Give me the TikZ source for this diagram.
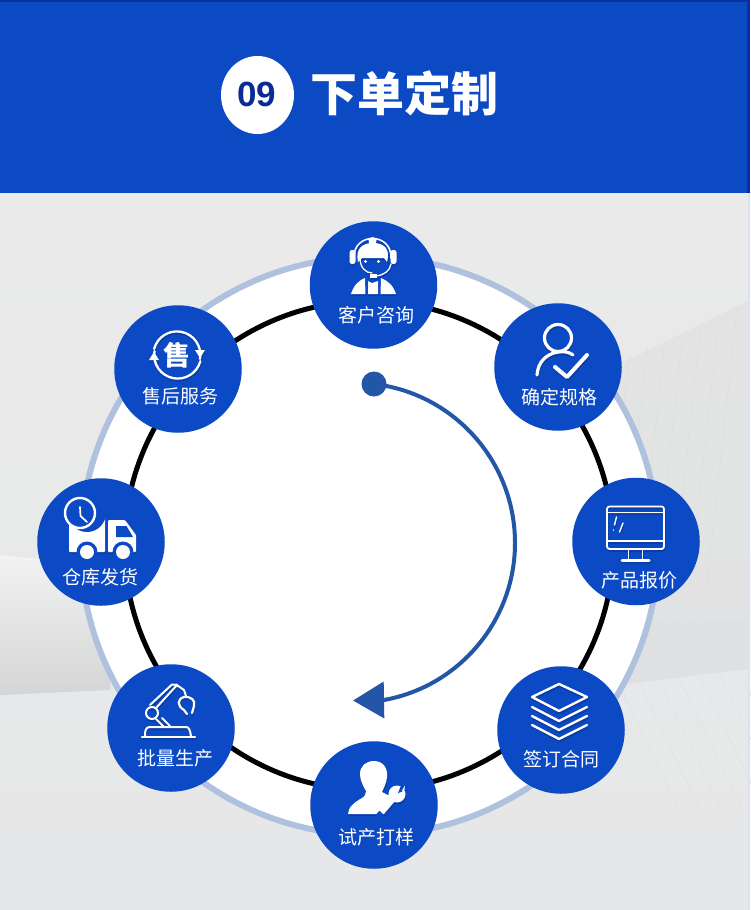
\documentclass[tikz,border=0pt]{standalone}
\usepackage{fontspec}
\setmainfont{Liberation Sans}
\newfontfamily\cjk{Noto Sans CJK SC}
\usetikzlibrary{shapes.geometric,arrows.meta}
\definecolor{bannerblue}{HTML}{0C4AC3}
\definecolor{bannerdark}{HTML}{0A2F9E}
\definecolor{stepblue}{HTML}{0B4AC4}
\definecolor{ringblue}{HTML}{B0C1DF}
\definecolor{arcblue}{HTML}{2356A6}
\definecolor{numblue}{HTML}{0A2B95}
\definecolor{shadowblue}{HTML}{0A3DA6}
\definecolor{bgtop}{HTML}{EAEAEA}
\definecolor{bgbot}{HTML}{E6E7E8}
\definecolor{stripe}{HTML}{DEDFDF}
\definecolor{stripelow}{HTML}{E1E2E2}
\definecolor{edgeblue}{HTML}{DDE1F0}
\def\icol{white}
\tikzset{
  x=1pt,y=-1pt,
  stepnode/.style={circle,fill=stepblue,minimum size=127.5pt,inner sep=0pt,outer sep=0pt},
  steplabel/.style={text=white,font=\cjk\fontsize{19}{19}\selectfont,inner sep=0pt},
  icf/.style={fill=\icol,draw=none},
  ics/.style={draw=\icol,line width=#1,fill=none,line cap=round,line join=round},
  ics/.default=2.4pt
}
% each icon is drawn twice: a soft offset copy, then the white one
\newcommand\shadowed[1]{%
  \begin{scope}[shift={(0.6,2)}]\def\icol{shadowblue}#1\end{scope}%
  #1}
\newcommand\iconHeadset{%
  \draw[ics=1.6pt] (354,258) .. controls (353,232) and (392,232) .. (391,258);
  \fill[icf,rounded corners=2.5pt] (349.5,250) rectangle (355.5,264);
  \fill[icf,rounded corners=2.5pt] (390.5,250) rectangle (396.5,264);
  \fill[icf] (372.5,241) circle (4);
  \fill[icf] (358,262) .. controls (355,248) and (363,243) .. (373,243) .. controls (383,243) and (391,248) .. (387,262) -- (384,258) -- (362,258) -- cycle;
  \draw[ics=1.3pt] (360,258) .. controls (360,268) and (366,273) .. (372,273);
  \draw[ics=1.3pt] (391,264) .. controls (390,271) and (384,275) .. (376,276);
  \fill[icf] (370,273.5) rectangle (377,277.5);
  \fill[icf] (365.5,261.5) circle (1.6);
  \fill[icf] (378.5,261.5) circle (1.6);
  \fill[icf] (351,294) .. controls (354,285) and (358,281) .. (365,278) -- (365.5,294) -- cycle;
  \fill[icf] (368,281) -- (372,283) -- (378,281) -- (378,294) -- (368,294) -- cycle;
  \fill[icf] (396,294) .. controls (393,285) and (388,281) .. (381,278) -- (380.5,294) -- cycle;
}
\newcommand\iconPerson{%
  \draw[ics=3.2pt] (558,338) circle (13.5);
  \draw[ics=3.2pt] (537,375) .. controls (538,362) and (546,354) .. (558,352) .. controls (564,351) and (569,352) .. (573,355);
  \draw[ics=4pt] (555,367) -- (567,377) -- (587,355);
}
\newcommand\iconMonitor{%
  \draw[ics=1.8pt,rounded corners=2.5pt] (607,506.5) rectangle (664,549);
  \draw[ics=1.6pt] (607,512.5) -- (664,512.5);
  \draw[ics=1.6pt] (607,541) -- (664,541);
  \draw[ics=1.6pt] (628.5,549) -- (628.5,560);
  \draw[ics=1.6pt] (642.5,549) -- (642.5,560);
  \draw[ics=3pt] (622,560.5) -- (649,560.5);
  \draw[ics=1.4pt] (616.5,517) -- (614.5,525);
  \fill[icf] (613.3,530) circle (.8);
  \draw[ics=1.4pt] (623,523) -- (619.5,532);
}
\newcommand\iconLayers{%
  \draw[ics=2.4pt] (559,684) -- (587,697) -- (559,711) -- (532,697) -- cycle;
  \draw[ics=2.4pt] (532,707) -- (559,721) -- (587,707);
  \draw[ics=2.4pt] (532,716) -- (559,730) -- (587,716);
  \draw[ics=2.4pt] (532,725) -- (559,739) -- (587,725);
}
\newcommand\iconWorker{%
  \fill[icf] (374,761) .. controls (383,761) and (388,768) .. (387,777) .. controls (386,785) and (383,789) .. (382,792) .. controls (385,794) and (388,795) .. (391,796) -- (377,814) -- (348,814) .. controls (348,807) and (355,802) .. (362,798) .. controls (365,796) and (366,794) .. (366,791) .. controls (363,786) and (360,780) .. (360,774) .. controls (360,766) and (366,761) .. (374,761) -- cycle;
  \draw[draw=stepblue,line width=6pt] (378,817) -- (395,797);
  \draw[draw=\icol,line width=7pt] (381,812) -- (393,798);
  \fill[icf] (397,794) circle (8.5);
  \fill[fill=stepblue] (398,793) -- (402,783) -- (410,789) -- cycle;
  \fill[icf] (405,797) -- (402,790.5) -- (405,785.5) .. controls (404,793) and (404,794) .. (405,797) -- cycle;
}
\newcommand\iconRobot{%
  \draw[ics=2.4pt] (142,737) -- (195,737);
  \draw[ics=2pt] (145,736) .. controls (145,730) and (146,727) .. (150,727) -- (186,727) .. controls (189,727) and (190,730) .. (191,736);
  \draw[ics=2pt] (152,713) circle (6);
  \draw[ics=2pt] (150,705) -- (172,684.5) -- (177,685) -- (156,708);
  \draw[ics=2pt] (176,684.5) -- (184,690) -- (186,696);
  \draw[ics=2pt] (156,719) -- (164,727);
  \draw[ics=2pt] (162,718) -- (170,726);
  \draw[ics=2.2pt] (184,710) .. controls (177,706) and (177,699) .. (184,697) .. controls (190,696) and (196,700) .. (194,706) -- (192,713);
  \draw[ics=2.2pt] (184,710) -- (187,714);
}
\newcommand\iconTruck{%
  \fill[icf,rounded corners=1pt] (69,515) rectangle (105,552);
  \fill[icf,rounded corners=1pt] (108,520) -- (125,520) -- (136,535) -- (136,552) -- (108,552) -- cycle;
  \fill[fill=stepblue] (116,526) -- (126.5,526) -- (133,537) -- (116,537) -- cycle;
  \fill[fill=stepblue] (87,513) circle (19);
  \draw[draw=\icol,line width=2.4pt,fill=stepblue] (80,513) circle (15);
  \draw[ics=1.7pt,line join=miter] (80,507) -- (80.5,516) -- (87,522);
  \fill[fill=stepblue] (87,552) circle (10.5);
  \fill[icf] (87,552) circle (7);
  \fill[fill=stepblue] (123,552) circle (10.5);
  \fill[icf] (123,552) circle (7);
}
\newcommand\iconRing{%
  \draw[ics=2.3pt] (154.5,351) arc (190:15:23.5);
  \draw[ics=2.3pt] (200,359) arc (10:-165:23.5);
  \fill[icf] (195,350) -- (205,350) -- (200,358) -- cycle;
  \fill[icf] (149,360) -- (159,360) -- (154,352) -- cycle;
}
\begin{document}
\begin{tikzpicture}
\useasboundingbox (0,0) rectangle (750,910);
% ---- background
\shade[top color=bgtop,bottom color=bgbot] (0,193) rectangle (750,910);
\shade[top color=bgtop!60!white,bottom color=bgbot!92!black] (0,555) -- (110,566) -- (110,690) -- (0,695) -- cycle;
% right-hand wall
\shade[top color=bgtop!97!black,bottom color=bgbot!98!black] (610,369) -- (748,301) -- (748,622) -- (610,622) -- cycle;
\foreach \i in {0,...,8}{
  \pgfmathsetmacro\tx{737-18*\i}
  \pgfmathsetmacro\ty{max(304,308+8*\i)}
  \pgfmathsetmacro\bx{\tx-34*(622-\ty)/314}
  \draw[stripe,line width=.7pt] (\tx,\ty) -- (\bx,622);
}
\fill[bgbot!97!black] (610,622) -- (748,622) -- (748,669) -- (610,686) -- cycle;
\foreach \i in {0,...,7}{
  \pgfmathsetmacro\tx{620+20*\i}
  \pgfmathsetmacro\ty{687-2.4*\i}
  \draw[stripelow,line width=.6pt] (\tx,\ty) -- (\tx+63,\ty+131);
}
% ---- banner
\fill[bannerdark] (0,0) rectangle (750,193);
\fill[bannerblue] (0,2) rectangle (747,193);
\fill[edgeblue] (748,193) rectangle (750,910);
\node[ellipse,fill=white,minimum width=73pt,minimum height=78pt,inner sep=0pt] (badge) at (257.5,95) {};
\node[text=numblue,font=\bfseries\fontsize{35}{35}\selectfont,inner sep=0pt] (num) at (257,94.5) {09};
\node[text=white,font=\cjk\bfseries\fontsize{47}{47}\selectfont,inner sep=0pt] (title) at (404,93) {下单定制};
% ---- rings
\draw[ringblue,line width=6pt,fill=white] (369.5,546) circle (289);
\draw[black,line width=5pt] (369,545.5) circle (244.5);
% ---- central arc
\node[circle,fill=arcblue,minimum size=25pt,inner sep=0pt] (dot) at (374,384) {};
\coordinate (tip) at (353,700.5);
\coordinate (arcmid) at (515,543);
\coordinate (arcend) at (384,700);
\draw[arcblue,line width=4pt,-{Triangle[length=31pt,width=36pt]}]
  (dot.center) .. controls (454.4,393.6) and (515,462) .. (arcmid)
  .. controls (515,620.5) and (459.3,686.4) .. (arcend) -- (tip);
% ---- steps
\node[stepnode] (s1) at (373.5,285) {};
\node[stepnode] (s2) at (558,367) {};
\node[stepnode] (s3) at (636,541.5) {};
\node[stepnode] (s4) at (561,730) {};
\node[stepnode] (s5) at (374,805) {};
\node[stepnode] (s6) at (171,728) {};
\node[stepnode] (s7) at (101,542) {};
\node[stepnode] (s8) at (178,369) {};
% ---- icons
\shadowed{\iconHeadset}
\shadowed{\iconPerson}
\shadowed{\iconMonitor}
\shadowed{\iconLayers}
\shadowed{\iconWorker}
\shadowed{\iconRobot}
\shadowed{\iconTruck}
\shadowed{\iconRing}
\node[text=white,font=\cjk\bfseries\fontsize{27}{27}\selectfont,inner sep=0pt] (shou) at (177,355) {售};
% ---- labels
\node[steplabel] (l1) at (376.5,315.5) {客户咨询};
\node[steplabel] (l2) at (559,397.5) {确定规格};
\node[steplabel] (l3) at (639,580) {产品报价};
\node[steplabel] (l4) at (561.5,759.5) {签订合同};
\node[steplabel] (l5) at (376,837.5) {试产打样};
\node[steplabel] (l6) at (175,758.5) {批量生产};
\node[steplabel] (l7) at (100.5,577.5) {仓库发货};
\node[steplabel] (l8) at (180,396.5) {售后服务};
\end{tikzpicture}
\end{document}
